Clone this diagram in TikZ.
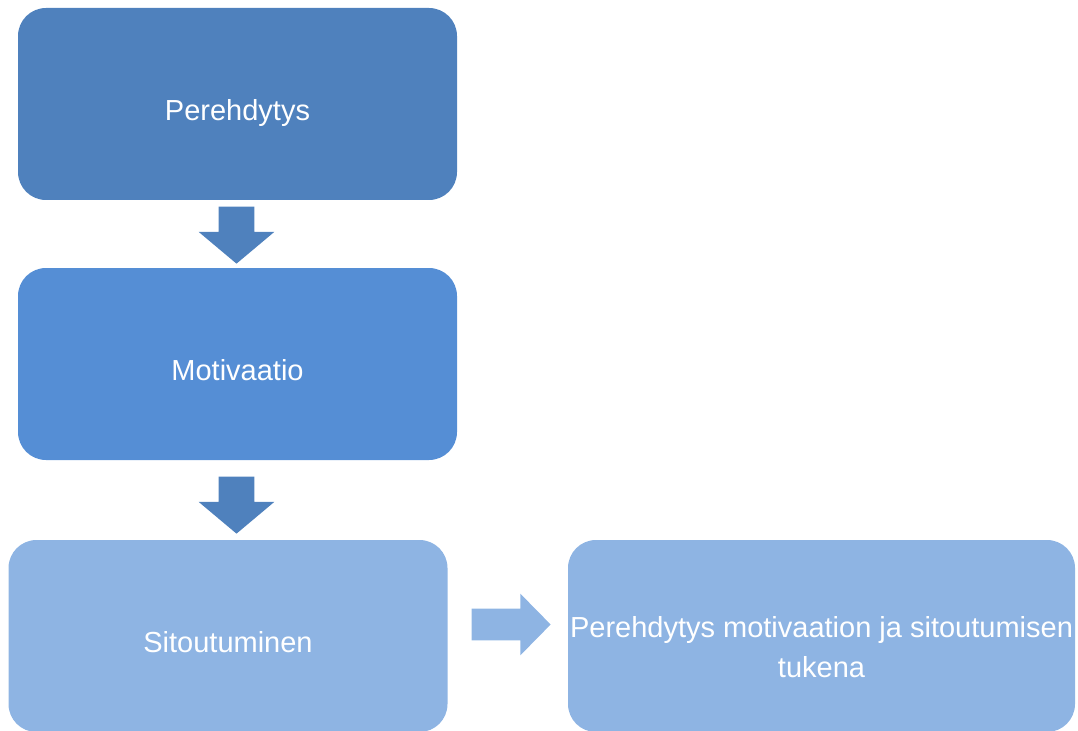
\documentclass[tikz,border=0pt]{standalone}
\usepackage{fontspec}
\setmainfont{Liberation Sans}
\usepackage{xcolor}
\usetikzlibrary{shapes,arrows,positioning,calc}

\definecolor{stepdark}{HTML}{4F81BD}
\definecolor{stepmid}{HTML}{558ED5}
\definecolor{steplight}{HTML}{8EB4E3}

\tikzset{
    stepbox/.style={rectangle, rounded corners=21pt, draw=none, text=white,
        minimum width=329.25pt, minimum height=144pt, inner sep=0pt,
        font=\fontsize{21.75}{30}\selectfont, align=center,
        text height=24.6pt, text depth=0pt},
    downarrow/.style={single arrow, draw=none, fill=stepdark,
        inner xsep=0pt, inner ysep=13.125pt, minimum height=42.75pt,
        single arrow head extend=15pt, single arrow tip angle=100,
        rotate=-90, anchor=tip},
    rightarrow/.style={single arrow, draw=none, fill=steplight,
        inner xsep=0pt, inner ysep=11.625pt, minimum height=59.25pt,
        single arrow head extend=11.25pt, single arrow tip angle=91,
        anchor=tip}
}

\begin{document}
\begin{tikzpicture}[x=0.75pt, y=-0.75pt]
    \useasboundingbox (0,0) rectangle (1078,731);
    % Boxes
    \node [stepbox, fill=stepdark] (perehdytys) at (237.5,104) {Perehdytys};
    \node [stepbox, fill=stepmid] (motivaatio) at (237.5,364) {Motivaatio};
    \node [stepbox, fill=steplight] (sitoutuminen) at (228,636) {Sitoutuminen};
    \node [stepbox, fill=steplight, minimum width=380.25pt,
        text height=64.5pt, text depth=2.1pt] (tuki) at (821.5,636)
        {Perehdytys motivaation ja sitoutumisen\\tukena};
    % Arrows
    \node [downarrow] (nuoli1) at (236.5,264) {};
    \node [downarrow] (nuoli2) at (236.5,534) {};
    \node [rightarrow] (nuoli3) at (551,624.5) {};
\end{tikzpicture}
\end{document}
